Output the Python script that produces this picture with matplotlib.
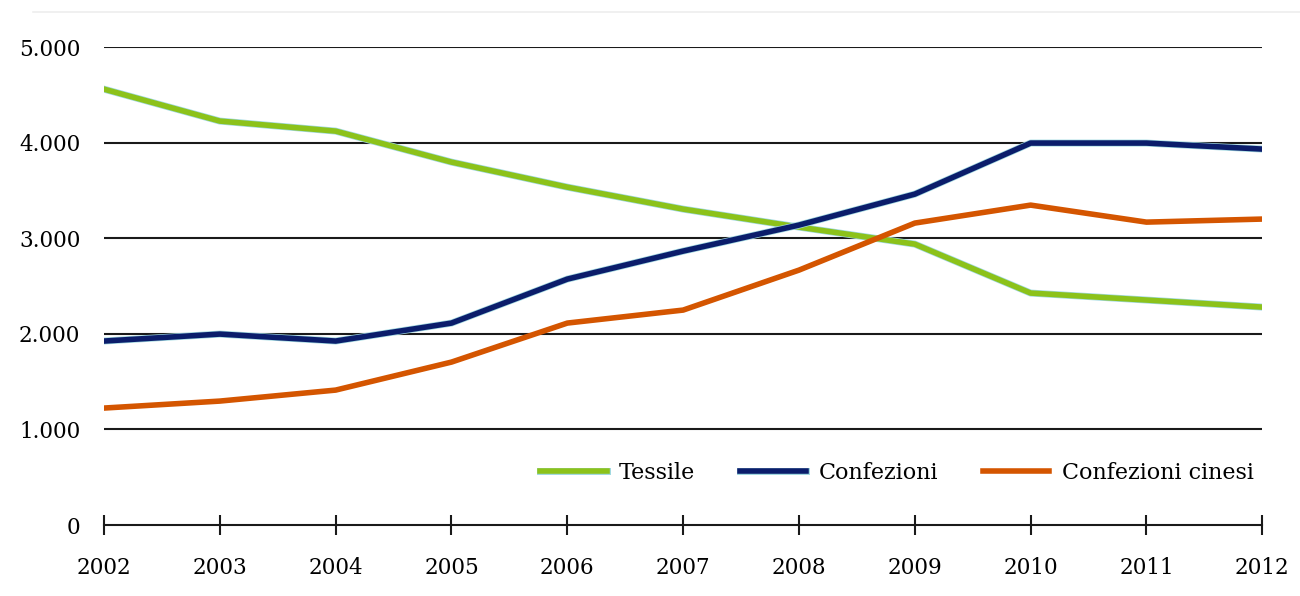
import matplotlib.pyplot as plt
import matplotlib.patheffects as pe
from matplotlib.lines import Line2D
from matplotlib.ticker import FuncFormatter

years = [2002, 2003, 2004, 2005, 2006, 2007, 2008, 2009, 2010, 2011, 2012]
tessile = [4560, 4226, 4121, 3797, 3535, 3305, 3117, 2939, 2427, 2354, 2280]
confezioni = [1925, 1998, 1925, 2113, 2573, 2866, 3138, 3462, 3996, 3996, 3933]
cinesi = [1224, 1297, 1412, 1705, 2113, 2249, 2667, 3159, 3347, 3169, 3201]

plt.rcParams['font.family'] = ['DejaVu Serif']

fig = plt.figure(figsize=(13, 5.96), dpi=100)
ax = fig.add_axes([0.08, 0.119, 0.891, 0.802])

glow = [pe.Stroke(linewidth=5, foreground='#9fd8e0'), pe.Normal()]
ax.plot(years, tessile, color='#8cc21a', lw=4, label='Tessile', path_effects=glow, zorder=3)
ax.plot(years, confezioni, color='#0b1d6b', lw=4, label='Confezioni', path_effects=glow, zorder=3)
ax.plot(years, cinesi, color='#d45500', lw=4, label='Confezioni cinesi', zorder=3)

ax.set_xlim(2002, 2012)
ax.set_ylim(0, 5000)
ax.set_yticks([0, 1000, 2000, 3000, 4000, 5000])
ax.yaxis.set_major_formatter(FuncFormatter(lambda v, p: f'{int(v):,}'.replace(',', '.')))
ax.set_xticks(years)

for v in [1000, 2000, 3000, 4000, 5000]:
    ax.axhline(v, color='#1a1a1a', lw=1.5, zorder=1)

for s in ['top', 'right', 'left']:
    ax.spines[s].set_visible(False)
ax.spines['bottom'].set_linewidth(1.5)
ax.spines['bottom'].set_color('#1a1a1a')

ax.tick_params(axis='y', length=0, pad=17, labelsize=15.5)
ax.tick_params(axis='x', direction='inout', length=14, width=1.5, color='#1a1a1a', pad=16, labelsize=15.5)

leg = ax.legend(loc='center right', bbox_to_anchor=(1.0, 0.109), ncol=3, frameon=False,
                fontsize=16, handlelength=3.0, columnspacing=2.0, handletextpad=0.55,
                borderaxespad=0)

fig.add_artist(Line2D([0.025, 1.0], [0.98, 0.98], color='#eeeeee', lw=1.2))

fig.savefig('out.png', dpi=100, facecolor='white')
